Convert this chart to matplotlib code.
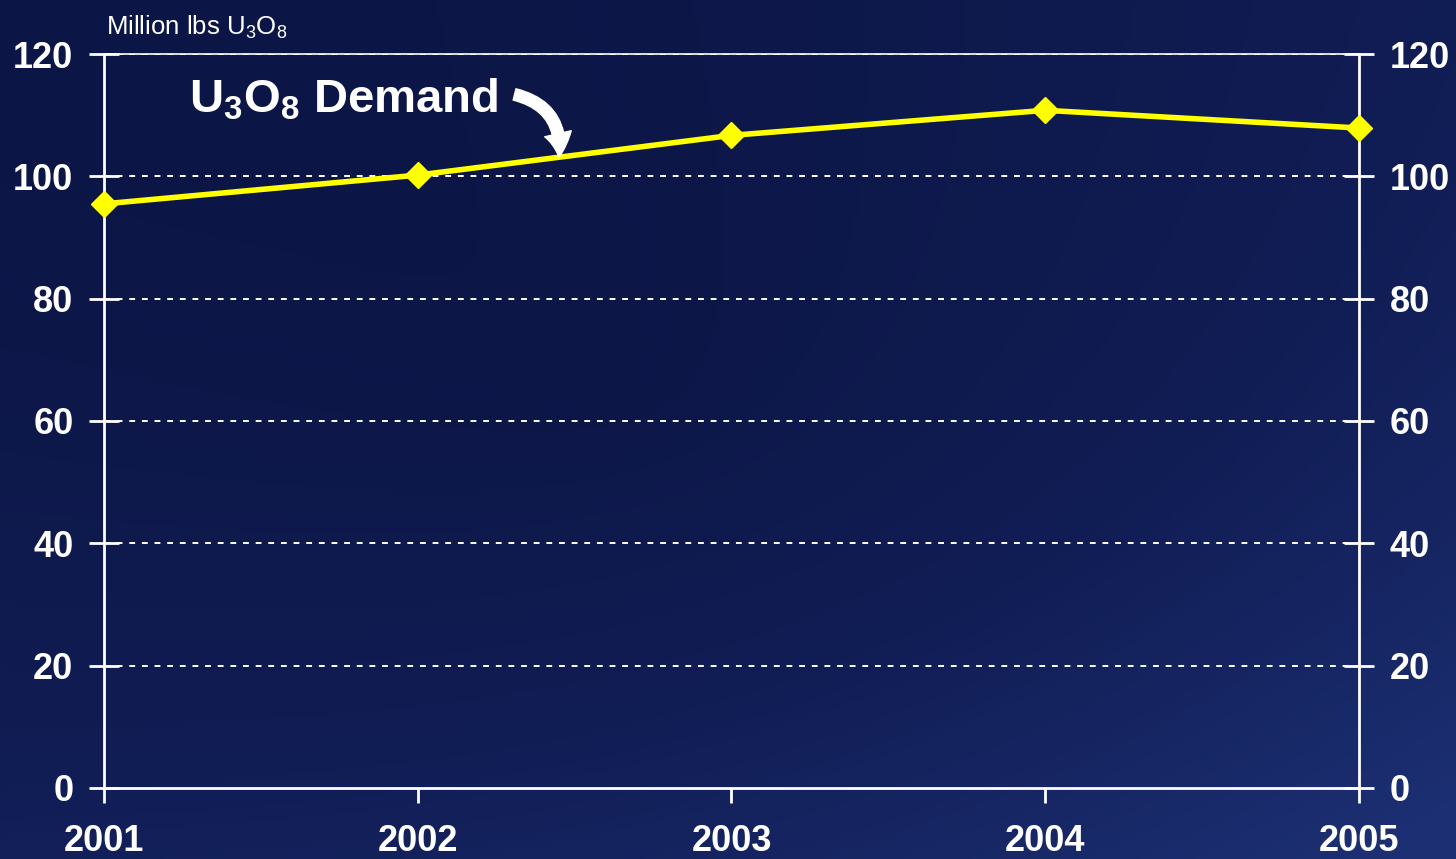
import numpy as np
import matplotlib
matplotlib.use('Agg')
import matplotlib.pyplot as plt
from matplotlib.colors import LinearSegmentedColormap
from matplotlib.patches import FancyArrowPatch

plt.rcParams['font.family'] = ['Liberation Sans', 'DejaVu Sans']
plt.rcParams['mathtext.fontset'] = 'custom'
plt.rcParams['mathtext.rm'] = 'Liberation Sans'
plt.rcParams['mathtext.it'] = 'Liberation Sans:italic'
plt.rcParams['mathtext.bf'] = 'Liberation Sans:bold'

# data
years = [2001, 2002, 2003, 2004, 2005]
demand = [95.5, 100.2, 106.7, 110.8, 107.9]
yticks = [0, 20, 40, 60, 80, 100, 120]

fig = plt.figure(figsize=(14.56, 8.59), dpi=100)

# dark blue background, lighter towards the bottom right
bg = fig.add_axes([0, 0, 1, 1])
bg.set_axis_off()
gx, gy = np.meshgrid(np.linspace(0, 1, 300), np.linspace(0, 1, 200))
dist = np.sqrt((gx - 0.42) ** 2 + (gy - 0.45) ** 2)
shade = np.clip(0.35 * gx + 0.45 * gy + 0.5 * dist - 0.15, 0, 1)
cmap = LinearSegmentedColormap.from_list('bg', ['#0c1646', '#111d55', '#1c2f72'])
bg.imshow(shade, cmap=cmap, aspect='auto', extent=[0, 1, 0, 1], origin='upper')

ax = fig.add_axes([0.0714, 0.0827, 0.862, 0.8544])
ax.patch.set_alpha(0)

ax.plot(years, demand, color='#ffff00', lw=4, marker='D', markersize=13,
        markeredgecolor='#ffff00', zorder=5, clip_on=False)

ax.set_xlim(2001, 2005)
ax.set_ylim(0, 120)
ax.set_xticks(years)
ax.set_yticks(yticks)
for y in yticks[1:]:
    ax.axhline(y, color='white', lw=1.4, ls=(0, (3, 3.5)), zorder=1)

for side in ['left', 'right', 'bottom', 'top']:
    ax.spines[side].set_color('white')
    ax.spines[side].set_linewidth(2)
ax.spines['top'].set_linewidth(1.2)

ax.tick_params(axis='x', colors='white', direction='out', length=11, width=2,
               labelsize=26, pad=15)
ax.tick_params(axis='y', colors='white', direction='inout', length=22, width=2,
               labelsize=26, pad=11, right=True, labelright=True)
for lab in ax.get_xticklabels() + ax.get_yticklabels():
    lab.set_fontweight('bold')

ax.text(0.002, 1.018, r'Million lbs U$_3$O$_8$', transform=ax.transAxes,
        color='white', fontsize=18.5, ha='left', va='bottom')

ax.text(2001.27, 112.5, r'U$_\mathbf{3}$O$_\mathbf{8}$ Demand', color='white',
        fontsize=34, fontweight='bold', ha='left', va='center')
ax.add_patch(FancyArrowPatch((2002.3, 113.5), (2002.45, 102.7),
                             connectionstyle='arc3,rad=-0.45',
                             arrowstyle='simple,head_width=1.4,head_length=1.2,tail_width=0.6',
                             mutation_scale=14, color='white', zorder=6))

fig.savefig('out.png', dpi=100)
